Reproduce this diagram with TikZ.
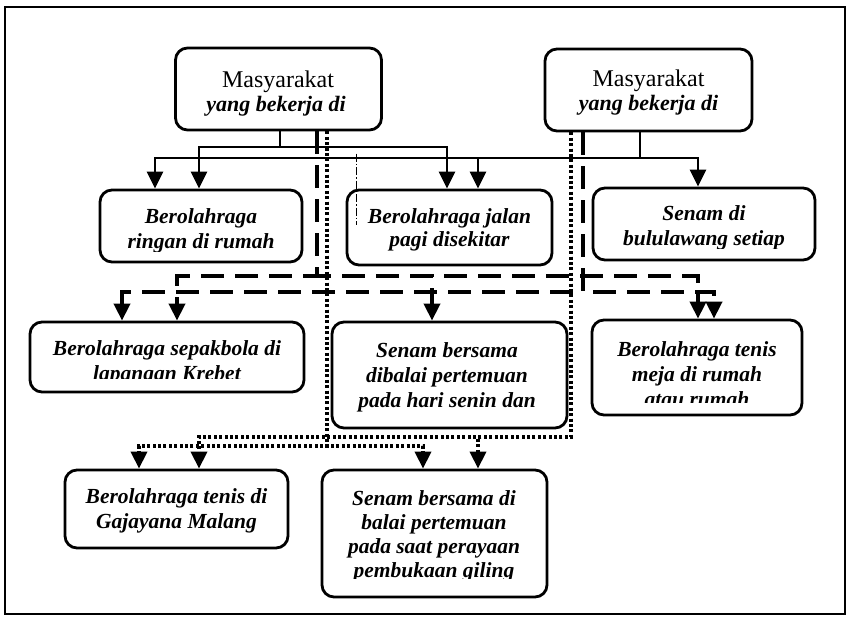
\documentclass[tikz,border=0pt]{standalone}
\usepackage{fontspec}
\setmainfont{Liberation Serif}
\usetikzlibrary{arrows.meta}
\begin{document}
\begin{tikzpicture}[x=1pt,y=-1pt,
  outerframe/.style={draw=black, line width=2pt},
  rbox/.style={draw=black, line width=2.8pt, rounded corners=12pt, inner sep=0pt},
  hd/.style={font=\fontsize{24}{24}\selectfont, inner sep=0pt, anchor=base},
  hdi/.style={font=\bfseries\itshape\fontsize{22}{22}\selectfont, inner sep=0pt, anchor=base},
  txt/.style={font=\bfseries\itshape\fontsize{21.5}{21.5}\selectfont, inner sep=0pt, anchor=base},
  ahead/.style={-{Triangle[width=16pt,length=17pt]}},
  solidc/.style={ahead, line width=2.4pt},
  dashc/.style={ahead, line width=3.8pt, dash pattern=on 23pt off 11pt},
  dotc/.style={ahead, line width=3.6pt, dash pattern=on 3pt off 2.4pt},
  faint/.style={line width=0.8pt, dash pattern=on 8pt off 2pt on 1.5pt off 2pt},
]
\useasboundingbox (0,0) rectangle (852,623);
\draw[outerframe] (5,7) rectangle (845,614);

% ---- boxes ----
\node[rbox, minimum width=206pt, minimum height=82pt] (M1) at (278.5,89) {};
\node[rbox, minimum width=207pt, minimum height=82pt] (M2) at (648.5,90) {};
\node[rbox, minimum width=202pt, minimum height=72pt] (ring) at (201,226) {};
\node[rbox, minimum width=205pt, minimum height=75pt] (jal) at (449.5,227.5) {};
\node[rbox, minimum width=222pt, minimum height=72pt] (sen) at (704,224) {};
\node[rbox, minimum width=274pt, minimum height=70pt] (sep) at (167,357) {};
\node[rbox, minimum width=235pt, minimum height=106pt] (sb) at (449.5,375) {};
\node[rbox, minimum width=210pt, minimum height=95pt] (tm) at (697,367.5) {};
\node[rbox, minimum width=223pt, minimum height=78pt] (gaj) at (176.5,509) {};
\node[rbox, minimum width=225pt, minimum height=127pt] (sbd) at (434.5,533.5) {};

% ---- texts ----
\node[hd] (M1t1) at (278,88) {Masyarakat};
\node[hdi] (M1t2) at (276,112) {yang bekerja di};
\node[hd] (M2t1) at (648.5,87) {Masyarakat};
\node[hdi] (M2t2) at (648.5,111) {yang bekerja di};

\begin{scope}
  \clip (ring.north west) rectangle ([yshift=12pt]ring.south east);
  \node[txt] (ringt1) at (201,223) {Berolahraga};
  \node[txt] (ringt2) at (201,248) {ringan di rumah};
\end{scope}
\begin{scope}
  \clip (jal.north west) rectangle ([yshift=14pt]jal.south east);
  \node[txt] (jalt1) at (449.5,223) {Berolahraga jalan};
  \node[txt] (jalt2) at (449.5,247) {pagi disekitar};
\end{scope}
\begin{scope}
  \clip (sen.north west) rectangle ([yshift=13pt]sen.south east);
  \node[txt] (sent1) at (704,220) {Senam di};
  \node[txt] (sent2) at (704,245) {bululawang setiap};
\end{scope}
\begin{scope}
  \clip (sep.north west) rectangle ([yshift=15pt]sep.south east);
  \node[txt] (sept1) at (167,355) {Berolahraga sepakbola di};
  \node[txt] (sept2) at (167,380) {lapangan Krebet};
\end{scope}
\begin{scope}
  \clip (sb.north west) rectangle ([yshift=14pt]sb.south east);
  \node[txt] (sbt1) at (447,357) {Senam bersama};
  \node[txt] (sbt2) at (447,382) {dibalai pertemuan};
  \node[txt] (sbt3) at (447,407) {pada hari senin dan};
\end{scope}
\begin{scope}
  \clip (tm.north west) rectangle ([yshift=14pt]tm.south east);
  \node[txt] (tmt1) at (697,356) {Berolahraga tenis};
  \node[txt] (tmt2) at (697,381) {meja di rumah};
  \node[txt] (tmt3) at (697,406) {atau rumah};
\end{scope}
\node[txt] (gajt1) at (176.5,503) {Berolahraga tenis di};
\node[txt] (gajt2) at (176.5,528) {Gajayana Malang};
\begin{scope}
  \clip (sbd.north west) rectangle ([yshift=20pt]sbd.south east);
  \node[txt] (sbdt1) at (434,505) {Senam bersama di};
  \node[txt] (sbdt2) at (434,529) {balai pertemuan};
  \node[txt] (sbdt3) at (434,553) {pada saat perayaan};
  \node[txt] (sbdt4) at (434,577) {pembukaan giling};
\end{scope}

% ---- connector end points ----
\coordinate (m1a) at ([xshift=1.5pt]M1.south);
\coordinate (m1b) at ([xshift=38.5pt]M1.south);
\coordinate (m1c) at ([xshift=48.5pt]M1.south);
\coordinate (m2a) at ([xshift=-8.5pt]M2.south);
\coordinate (m2b) at ([xshift=-65.5pt]M2.south);
\coordinate (m2c) at ([xshift=-77.5pt]M2.south);

\coordinate (ringA) at ([xshift=-46pt]ring.north);
\coordinate (ringB) at ([xshift=-2pt]ring.north);
\coordinate (jalA) at ([xshift=-2.5pt]jal.north);
\coordinate (jalB) at ([xshift=28.5pt]jal.north);
\coordinate (senA) at ([xshift=-6pt]sen.north);
\coordinate (sepA) at ([xshift=-45pt]sep.north);
\coordinate (sepB) at ([xshift=10pt]sep.north);
\coordinate (sbA) at ([xshift=-17.5pt]sb.north);
\coordinate (tmA) at ([xshift=1pt]tm.north);
\coordinate (tmB) at ([xshift=17pt]tm.north);
\coordinate (gajA) at ([xshift=-37.5pt]gaj.north);
\coordinate (gajB) at ([xshift=22.5pt]gaj.north);
\coordinate (sbdA) at ([xshift=-11.5pt]sbd.north);
\coordinate (sbdB) at ([xshift=43.5pt]sbd.north);

% rail levels
\coordinate (lvS1) at (0,147);
\coordinate (lvS2) at (0,158);
\coordinate (lvD1) at (0,276);
\coordinate (lvD2) at (0,292);
\coordinate (lvP1) at (0,437);
\coordinate (lvP2) at (0,446);

% ---- solid connectors ----
\draw[solidc] (m1a) -- (m1a |- lvS1) -| (ringB);
\draw[solidc] (m1a) -- (m1a |- lvS1) -| (jalA);
\draw[solidc] (m2a) -- (m2a |- lvS2) -| (ringA);
\draw[solidc] (m2a) -- (m2a |- lvS2) -| (jalB);
\draw[solidc] (m2a) -- (m2a |- lvS2) -| (senA);

% ---- dashed connectors ----
\draw[dashc] (m1b) -- (m1b |- lvD1) -| (sepB);
\draw[dashc] (m1b) -- (m1b |- lvD1) -| (sbA);
\draw[dashc] (m1b) -- (m1b |- lvD1) -| (tmA);
\draw[dashc] (m2b) -- (m2b |- lvD2) -| (sepA);
\draw[dashc] (m2b) -- (m2b |- lvD2) -| (tmB);

% ---- dotted connectors ----
\draw[dotc] (m1c) -- (m1c |- lvP2) -| (gajA);
\draw[dotc] (m1c) -- (m1c |- lvP2) -| (sbdA);
\draw[dotc] (m2c) -- (m2c |- lvP1) -| (gajB);
\draw[dotc] (m2c) -- (m2c |- lvP1) -| (sbdB);

% thin dash-dot stroke over the walking box
\coordinate (dd1) at ([xshift=11pt,yshift=35pt]jal.north west);
\coordinate (dd2) at ([xshift=11pt,yshift=-36pt]jal.north west);
\draw[faint] (dd1) -- (dd2);
\end{tikzpicture}
\end{document}
